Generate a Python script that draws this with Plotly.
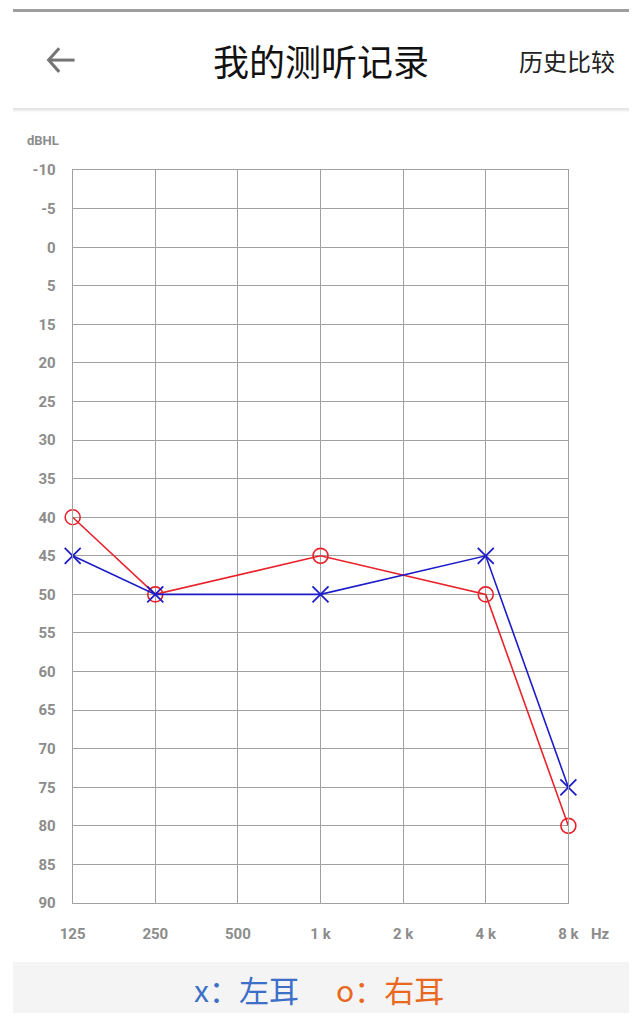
import plotly.graph_objects as go

freqs = ["125", "250", "500", "1 k", "2 k", "4 k", "8 k"]
db_labels = ["-10", "-5", "0", "5", "15", "20", "25", "30", "35", "40", "45",
             "50", "55", "60", "65", "70", "75", "80", "85", "90"]
left_freqs = ["125", "250", "1 k", "4 k", "8 k"]
left_db = [45, 50, 50, 45, 75]
right_freqs = ["125", "250", "1 k", "4 k", "8 k"]
right_db = [40, 50, 45, 50, 80]

W, H = 640, 1022
def px(y):
    return 1 - y / H

fig = go.Figure()
fig.add_trace(go.Scatter(
    x=right_freqs, y=[str(v) for v in right_db], mode="lines+markers",
    line=dict(color="#e8232b", width=1.6),
    marker=dict(symbol="circle-open", size=15, color="#e8232b", line=dict(width=1.6)),
    cliponaxis=False, showlegend=False))
fig.add_trace(go.Scatter(
    x=left_freqs, y=[str(v) for v in left_db], mode="lines+markers",
    line=dict(color="#1c1cc8", width=1.6),
    marker=dict(symbol="x-thin-open", size=16, color="#1c1cc8", line=dict(width=1.8, color="#1c1cc8")),
    cliponaxis=False, showlegend=False))

grid = "#a0a0a0"
tickfont = dict(family="Roboto", size=15, color="#8c8c8c", weight="bold")
fig.update_xaxes(type="category", categoryorder="array", categoryarray=freqs,
                 range=[0, len(freqs) - 1], domain=[62 / W, 577 / W],
                 showgrid=True, gridcolor=grid, gridwidth=1,
                 showline=True, mirror=True, linecolor=grid, linewidth=1,
                 ticks="", tickfont=tickfont, ticklabelstandoff=17, zeroline=False)
fig.update_yaxes(type="category", categoryorder="array", categoryarray=db_labels,
                 range=[len(db_labels) - 1, 0], domain=[px(910), px(164)],
                 showgrid=True, gridcolor=grid, gridwidth=1,
                 showline=True, mirror=True, linecolor=grid, linewidth=1,
                 ticks="", tickfont=tickfont, ticklabelstandoff=13, zeroline=False)

shapes = [
    dict(type="rect", xref="paper", yref="paper", x0=0, x1=1, y0=px(3), y1=1,
         fillcolor="#9e9e9e", line_width=0, layer="below"),
    dict(type="rect", xref="paper", yref="paper", x0=0, x1=1, y0=0, y1=px(970),
         fillcolor="#f4f4f4", line_width=0, layer="below"),
]
for i, op in enumerate([0.28, 0.18, 0.1, 0.05]):
    shapes.append(dict(type="rect", xref="paper", yref="paper", x0=0, x1=1,
                       y0=px(101 + i + 1), y1=px(101 + i), fillcolor="#808080",
                       opacity=op, line_width=0, layer="below"))

# back arrow icon in the header
arrow_pts = [(48, 40), (37, 52), (48, 64)]
shapes.append(dict(type="line", xref="paper", yref="paper",
                   x0=37 / W, x1=64 / W, y0=px(52), y1=px(52),
                   line=dict(color="#757575", width=3)))
path = "M " + " L ".join(f"{x / W},{px(y)}" for x, y in arrow_pts)
shapes.append(dict(type="path", xref="paper", yref="paper", path=path,
                   line=dict(color="#757575", width=3)))

def ann(text, x, y, font):
    return dict(text=text, x=x / W, y=px(y), xref="paper", yref="paper", showarrow=False,
                xanchor="center", yanchor="middle", font=font)

annotations = [
    ann("我的测听记录", 320, 52, dict(family="Noto Sans CJK SC", size=36, color="#111111")),
    ann("历史比较", 576, 52, dict(family="Noto Sans CJK SC", size=24, color="#222222")),
    ann("dBHL", 31, 134, dict(family="Roboto", size=13, color="#8c8c8c", weight="bold")),
    ann("Hz", 610, 942, dict(family="Roboto", size=15, color="#8c8c8c", weight="bold")),
    ann("x：左耳", 243, 998, dict(family="Noto Sans CJK SC", size=30, color="#3c6fc8")),
    ann("o：右耳", 392, 998, dict(family="Noto Sans CJK SC", size=30, color="#e8681e")),
]

fig.update_layout(width=W, height=H, margin=dict(l=0, r=0, t=0, b=0),
                  paper_bgcolor="white", plot_bgcolor="white",
                  shapes=shapes, annotations=annotations, showlegend=False)
fig.write_html("out.html", config={"responsive": False, "displayModeBar": False})
